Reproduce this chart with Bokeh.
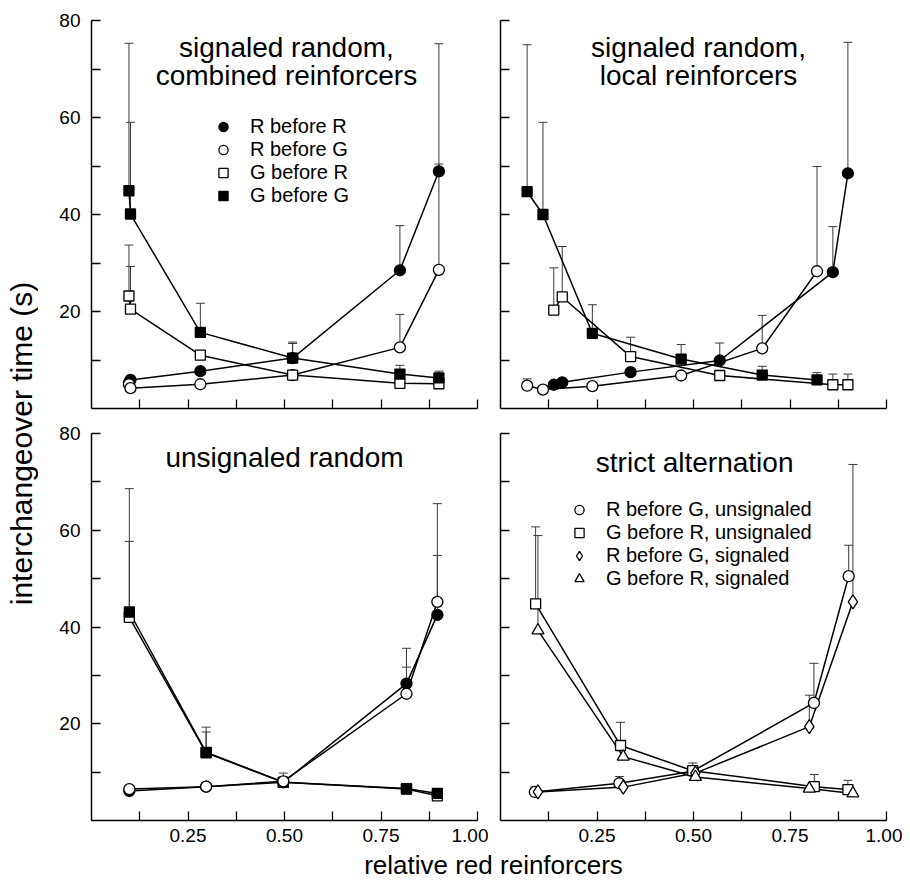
import math
from bokeh.plotting import figure
from bokeh.models import (FixedTicker, Label, Legend, LegendItem, Whisker,
                          ColumnDataSource, TeeHead, Range1d, PrintfTickFormatter)
from bokeh.layouts import row, column
from bokeh.embed import file_html
from bokeh.resources import INLINE

FONT = "Liberation Sans"

# ---------------- data ----------------
x_major = [0.25, 0.50, 0.75, 1.00]
x_minor = [0.125, 0.375, 0.625, 0.875]
y_major = [20, 40, 60, 80]
y_minor = [10, 30, 50, 70]

# top-left: signaled random, combined reinforcers
tl_x = [0.097, 0.101, 0.282, 0.521, 0.799, 0.900]
tl_rr = [5.3, 5.9, 7.7, 10.4, 28.5, 48.9]
tl_rr_err = [0, 0, 0, 3.3, 9.2, 26.3]
tl_rg = [5.0, 4.2, 5.0, 6.9, 12.6, 28.6]
tl_rg_err = [0, 0, 0, 0, 6.8, 21.8]
tl_gr = [23.2, 20.5, 11.0, 6.9, 5.2, 5.1]
tl_gr_err = [10.5, 8.8, 0, 0, 0, 0]
tl_gg = [44.9, 40.1, 15.7, 10.4, 7.1, 6.3]
tl_gg_err = [30.4, 18.9, 6.0, 3.0, 1.8, 1.4]

# top-right: signaled random, local reinforcers
tr_x_r = [0.138, 0.160, 0.337, 0.568, 0.861, 0.900]
tr_x_g = [0.069, 0.110, 0.238, 0.468, 0.678, 0.820]
tr_rr = [4.9, 5.4, 7.5, 9.9, 28.1, 48.5]
tr_rr_err = [0, 0, 0, 3.6, 9.4, 27.0]
tr_gr = [20.3, 23.0, 10.7, 6.8, 4.9, 4.9]
tr_gr_err = [8.7, 10.4, 4.0, 0, 2.2, 2.2]
tr_rg = [4.7, 3.9, 4.6, 6.8, 12.4, 28.3]
tr_rg_err = [1.4, 0, 0, 0, 6.8, 21.6]
tr_gg = [44.7, 40.0, 15.5, 10.2, 6.9, 5.9]
tr_gg_err = [30.3, 19.0, 5.9, 3.0, 1.8, 1.5]

# bottom-left: unsignaled random
bl_x = [0.098, 0.297, 0.497, 0.816, 0.896]
bl_gg = [43.1, 14.1, 7.9, 6.6, 5.6]
bl_gg_err = [25.5, 5.2, 1.9, 0, 0]
bl_gr = [42.0, 14.0, 7.9, 6.5, 5.1]
bl_gr_err = [15.7, 4.3, 0, 0, 0]
bl_rr = [6.1, 7.0, 7.9, 28.3, 42.5]
bl_rr_err = [0, 0, 0, 7.3, 23.0]
bl_rg = [6.5, 7.0, 8.1, 26.2, 45.2]
bl_rg_err = [0, 0, 0, 5.5, 9.6]

# bottom-right: strict alternation
br_x_u_rg = [0.089, 0.308, 0.498, 0.812, 0.902]
br_u_rg = [5.9, 7.7, 10.2, 24.3, 50.5]
br_u_rg_err = [1.0, 1.4, 0, 8.2, 6.4]
br_x_u_gr = [0.091, 0.311, 0.498, 0.813, 0.900]
br_u_gr = [44.8, 15.5, 10.3, 7.0, 6.4]
br_u_gr_err = [15.9, 4.8, 1.6, 2.5, 1.9]
br_x_s = [0.097, 0.318, 0.505, 0.800, 0.913]
br_s_rg = [5.9, 6.9, 9.8, 19.4, 45.2]
br_s_rg_err = [0, 0, 0, 6.5, 28.4]
br_s_gr = [39.3, 13.2, 9.0, 6.6, 5.6]
br_s_gr_err = [19.6, 0, 0, 0, 0]

ERR_COLOR = "#3a3a3a"


def panel(width, height, bl, br, bt, bb, ylabels, xlabels):
    p = figure(width=width, height=height, x_range=Range1d(0, 1), y_range=Range1d(0, 80),
               output_backend="svg", toolbar_location=None,
               min_border_left=bl, min_border_right=br, min_border_top=bt, min_border_bottom=bb)
    p.outline_line_color = None
    p.xgrid.visible = False
    p.ygrid.visible = False
    xa = p.xaxis[0]
    ya = p.yaxis[0]
    if xlabels:
        xa.ticker = FixedTicker(ticks=x_major, minor_ticks=x_minor)
        xa.formatter = PrintfTickFormatter(format="%.2f")
    else:
        xa.ticker = FixedTicker(ticks=[], minor_ticks=x_minor + x_major)
    if ylabels:
        ya.ticker = FixedTicker(ticks=y_major, minor_ticks=y_minor)
    else:
        ya.ticker = FixedTicker(ticks=[], minor_ticks=y_minor + y_major)
    for ax in (xa, ya):
        ax.axis_line_width = 1.5
        ax.axis_line_color = "black"
        ax.major_tick_in = 9
        ax.major_tick_out = 0
        ax.minor_tick_in = 9
        ax.minor_tick_out = 0
        ax.major_tick_line_width = 1.3
        ax.minor_tick_line_width = 1.3
        ax.major_tick_line_color = "black"
        ax.minor_tick_line_color = "black"
        ax.major_label_text_font = FONT
        ax.major_label_text_font_size = "19px"
        ax.major_label_text_color = "black"
    xa.major_label_standoff = 8
    ya.major_label_standoff = 11
    return p


def draw_series(p, series):
    for (x, y, err, marker, fill, size) in series:
        p.line(x, y, line_color="black", line_width=1.5)
    for (x, y, err, marker, fill, size) in series:
        bx, lo, up = [], [], []
        for xi, yi, ei in zip(x, y, err):
            if ei > 0:
                bx.append(xi)
                lo.append(yi)
                up.append(yi + ei)
        if bx:
            src = ColumnDataSource(dict(base=bx, lower=lo, upper=up))
            w = Whisker(source=src, base="base", lower="lower", upper="upper",
                        dimension="height", line_color=ERR_COLOR, line_width=1,
                        lower_head=None,
                        upper_head=TeeHead(size=9, line_color=ERR_COLOR, line_width=1),
                        level="underlay")
            p.add_layout(w)
    rends = []
    for (x, y, err, marker, fill, size) in series:
        r = p.scatter(x, y, marker=marker, size=size, fill_color=fill,
                      line_color="black", line_width=1.3)
        rends.append(r)
    return rends


def add_title(p, lines):
    for (tx, ty, txt) in lines:
        p.add_layout(Label(x=tx, y=ty, text=txt, text_align="center",
                           text_baseline="middle", text_font=FONT,
                           text_font_size="28px", text_color="black"))


def add_legend(p, labels, rends, loc):
    leg = Legend(items=[LegendItem(label=l, renderers=[r]) for l, r in zip(labels, rends)],
                 location=loc, padding=0, margin=0, spacing=0,
                 glyph_width=24, glyph_height=23, label_height=23, label_standoff=15,
                 label_text_font=FONT, label_text_font_size="20px",
                 label_text_color="black",
                 border_line_color=None, background_fill_alpha=0)
    p.add_layout(leg)


# ---------------- panels ----------------
TOP_H, BOT_H, XL_H = 421, 429, 28
LEFT_W, RIGHT_W = 450, 414

tl = panel(LEFT_W, TOP_H, 53, 11, 20, 13, True, False)
r = draw_series(tl, [
    (tl_x, tl_rr, tl_rr_err, "circle", "black", 11),
    (tl_x, tl_rg, tl_rg_err, "circle", "white", 11),
    (tl_x, tl_gr, tl_gr_err, "square", "white", 10),
    (tl_x, tl_gg, tl_gg_err, "square", "black", 10),
])
add_title(tl, [(0.505, 74.5, "signaled random,"), (0.505, 68.6, "combined reinforcers")])
add_legend(tl, ["R before R", "R before G", "G before R", "G before G"], r, (120, 201))

tr = panel(RIGHT_W, TOP_H, 12, 16, 20, 13, False, False)
draw_series(tr, [
    (tr_x_r, tr_rr, tr_rr_err, "circle", "black", 11),
    (tr_x_g, tr_rg, tr_rg_err, "circle", "white", 11),
    (tr_x_r, tr_gr, tr_gr_err, "square", "white", 10),
    (tr_x_g, tr_gg, tr_gg_err, "square", "black", 10),
])
add_title(tr, [(0.513, 74.5, "signaled random,"), (0.513, 68.6, "local reinforcers")])

bl = panel(LEFT_W, BOT_H, 53, 11, 12, 30, True, True)
draw_series(bl, [
    (bl_x, bl_gr, bl_gr_err, "square", "white", 10),
    (bl_x, bl_gg, bl_gg_err, "square", "black", 10),
    (bl_x, bl_rr, bl_rr_err, "circle", "black", 11),
    (bl_x, bl_rg, bl_rg_err, "circle", "white", 11),
])
add_title(bl, [(0.50, 75.1, "unsignaled random")])

br = panel(RIGHT_W, BOT_H, 12, 16, 12, 30, False, True)
r = draw_series(br, [
    (br_x_u_rg, br_u_rg, br_u_rg_err, "circle", "white", 11),
    (br_x_u_gr, br_u_gr, br_u_gr_err, "square", "white", 10),
    (br_x_s, br_s_rg, br_s_rg_err, "diamond", "white", 14),
    (br_x_s, br_s_gr, br_s_gr_err, "triangle", "white", 12),
])
add_title(br, [(0.503, 74.1, "strict alternation")])
add_legend(br, ["R before G, unsignaled", "G before R, unsignaled",
                "R before G, signaled", "G before R, signaled"], r, (67, 230))

# ---------------- shared axis titles ----------------
YL_W = 38
TOTAL_H = TOP_H + BOT_H + XL_H
ylab = figure(width=YL_W, height=TOTAL_H, x_range=Range1d(0, YL_W), y_range=Range1d(0, TOTAL_H),
              output_backend="svg", toolbar_location=None, title=None,
              x_axis_location=None, y_axis_location=None,
              min_border_left=0, min_border_right=0, min_border_top=0, min_border_bottom=0)
ylab.outline_line_color = None
ylab.grid.visible = False
ylab.add_layout(Label(x=21, y=TOTAL_H - 443, text="interchangeover time (s)", angle=math.pi / 2,
                      text_align="center", text_baseline="middle", text_font=FONT,
                      text_font_size="30px", text_color="black"))

XL_W = LEFT_W + RIGHT_W
xlab = figure(width=XL_W, height=XL_H, x_range=Range1d(0, XL_W), y_range=Range1d(0, XL_H),
              output_backend="svg", toolbar_location=None, title=None,
              x_axis_location=None, y_axis_location=None,
              min_border_left=0, min_border_right=0, min_border_top=0, min_border_bottom=0)
xlab.outline_line_color = None
xlab.grid.visible = False
xlab.add_layout(Label(x=493 - YL_W, y=XL_H / 2, text="relative red reinforcers",
                      text_align="center", text_baseline="middle", text_font=FONT,
                      text_font_size="26px", text_color="black"))

layout = row(ylab, column(row(tl, tr), row(bl, br), xlab))

open("out.html", "w").write(file_html(layout, INLINE))
